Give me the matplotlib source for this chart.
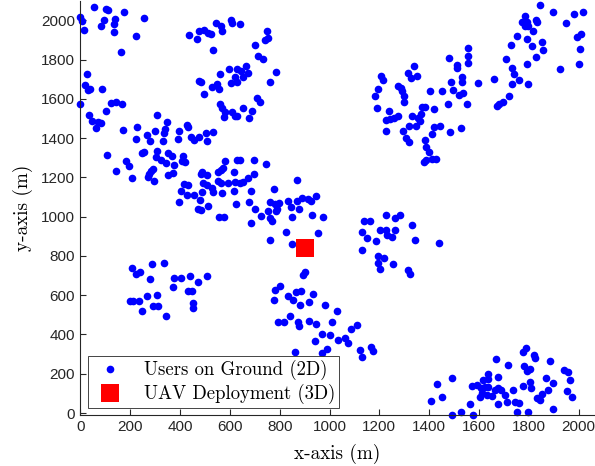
import matplotlib
matplotlib.use("Agg")
import matplotlib.pyplot as plt
import numpy as np

# users (metres)
nw_x = [55, 101, 112, 176, 0, 7, 15, 96, 82, 139,
        133, 135, 256, 223, 161, 436, 468, 476, 497, 513,
        25, 18, 29, 38, 88, 476, 484, 496, 0, 122,
        144, 165, 104, 34, 47, 71, 82, 61, 171, 307,
        347, 339, 337, 299, 227, 224, 267, 396, 428, 430,
        393, 444, 455, 476, 505]
nw_y = [2067, 2055, 2050, 2041, 2017, 1995, 1952, 2003, 1973, 2007,
        1983, 1938, 2009, 1919, 1839, 1926, 1906, 1945, 1948, 1935,
        1724, 1669, 1647, 1650, 1650, 1690, 1683, 1623, 1575, 1578,
        1585, 1573, 1536, 1515, 1487, 1484, 1475, 1453, 1443, 1517,
        1481, 1446, 1424, 1438, 1455, 1395, 1414, 1434, 1469, 1455,
        1397, 1403, 1392, 1407, 1428]

w_x = [278, 333, 508, 108, 141, 181, 196, 206, 246, 255,
       306, 303, 350, 366, 323, 342, 374, 371, 350, 413,
       409, 420, 292, 283, 275, 270, 294, 487, 484, 507,
       417, 433, 493, 507, 404, 428, 457, 487, 481, 396,
       473, 484, 513, 208, 224, 239, 288, 334, 278, 374,
       404, 440, 507, 473,
       373, 431, 449, 266, 308, 199, 212, 235, 248, 290,
       310, 342, 452, 452]
w_y = [1383, 1383, 1386, 1312, 1232, 1284, 1258, 1198, 1326, 1331,
       1335, 1306, 1326, 1309, 1287, 1273, 1263, 1222, 1210, 1309,
       1284, 1276, 1244, 1232, 1218, 1201, 1184, 1229, 1215, 1210,
       1167, 1160, 1172, 1163, 1133, 1109, 1109, 1124, 1085, 1074,
       1040, 1032, 1052, 739, 709, 718, 759, 762, 684, 687,
       687, 696, 698, 667,
       643, 619, 619, 598, 601, 571, 569, 571, 521, 543,
       543, 494, 560, 536]

n_x = [544, 564, 569, 604, 607, 639, 524, 748, 741, 752,
       701, 714, 734, 533, 784, 762, 596, 627, 645, 663,
       671, 654, 620, 627, 604, 560, 529, 547, 556, 560,
       569, 580, 576, 607, 620, 630, 654, 688, 677, 710,
       721, 531]
n_y = [1986, 1972, 1945, 1999, 1986, 1979, 1931, 1947, 1901, 1909,
       1875, 1820, 1801, 1849, 1738, 1685, 1750, 1753, 1743, 1768,
       1733, 1712, 1712, 1686, 1678, 1726, 1661, 1674, 1652, 1575,
       1554, 1532, 1506, 1532, 1513, 1513, 1554, 1536, 1500, 1604,
       1582, 1431]

c_x = [580, 627, 641, 698, 746, 553, 573, 564, 615, 553,
       564, 594, 620, 642, 653, 674, 698, 529, 533, 567,
       615, 685, 776, 868, 624, 677, 701, 556, 575, 725,
       685, 762, 781, 797, 789, 784, 754, 761, 768, 835,
       845, 869, 891, 915, 926, 945, 879, 848, 928, 975,
       826, 955, 761, 851, 902, 895]
c_y = [1284, 1290, 1290, 1290, 1266, 1227, 1246, 1236, 1229, 1181,
       1169, 1172, 1177, 1169, 1177, 1198, 1218, 1146, 1124, 1121,
       1130, 1133, 1141, 1188, 1064, 1073, 1040, 999, 999, 1002,
       967, 1074, 1064, 1068, 1040, 1030, 1027, 992, 978, 1078,
       1050, 1081, 1095, 1090, 1078, 1107, 1038, 996, 1009, 999,
       920, 919, 881, 862, 718, 704]

s_x = [781, 801, 778, 835, 855, 864, 884, 881, 918, 935,
       982, 1029, 794, 818, 841, 872, 876, 918, 945, 1011,
       969, 942, 1002, 1035, 861, 969, 989,
       1085, 1112, 1062, 1073, 1122, 1132, 1167, 1175]
s_y = [629, 649, 574, 595, 577, 615, 619, 550, 564, 608,
       550, 521, 464, 461, 492, 464, 444, 469, 452, 461,
       401, 367, 396, 372, 310, 307, 327,
       430, 449, 382, 355, 320, 286, 336, 317]

se_x = [1430, 1493, 1406, 1453, 1493, 1528,
        1564, 1578, 1574, 1591, 1618, 1638, 1638, 1608, 1624, 1638,
        1614, 1631, 1604, 1651, 1665, 1678, 1689, 1678, 1705, 1712,
        1670, 1718, 1678, 1738, 1745, 1761, 1752, 1778, 1788, 1782,
        1792, 1805, 1778, 1805, 1809, 1796, 1822, 1825, 1832, 1845,
        1852, 1886, 1869, 1879, 1899, 1896, 1943, 1959, 1966, 1953,
        1973]
se_y = [149, 176, 63, 81, -9, 4,
        46, -10, 139, 145, 170, 175, 200, 127, 135, 132,
        101, 93, 84, 87, 118, 127, 118, 46, 93, 55,
        276, 247, 181, 118, 58, 50, 4, 310, 329, 238,
        212, 225, 139, 159, 125, 7, 293, 278, 76, 67,
        98, 264, 178, 115, 154, 19, 221, 209, 170, 112,
        82]

e_x = [1308, 1320, 1384, 1386, 1400, 1381, 1386, 1410, 1426, 1140,
       1163, 1226, 1263, 1284, 1132, 1151, 1203, 1226, 1230, 1250,
       1263, 1186, 1330, 1343, 1441, 1129, 1196, 1220, 1196, 1204,
       1254, 1316, 1325]
e_y = [1400, 1380, 1390, 1356, 1328, 1280, 1290, 1296, 1296, 978,
       978, 1006, 992, 1009, 924, 889, 931, 931, 906, 898,
       932, 876, 955, 879, 864, 828, 798, 787, 762, 732,
       761, 726, 709]

ne_x = [1339, 1317, 1327, 1351, 1206, 1216, 1194, 1183, 1190, 1276,
        1287, 1292, 1300, 1298, 1239, 1226, 1243, 1260, 1276, 1226,
        1330, 1373, 1384, 1367, 1357, 1319, 1346, 1363, 1296, 1421,
        1405, 1453, 1421, 1445, 1410, 1484, 1528, 1477, 1481, 1511,
        1511, 1488, 1533, 1533, 1497, 1520, 1536, 1555, 1557, 1557,
        1553,
        1598, 1659, 1671, 1681, 1698, 1721, 1733, 1798, 1742, 1762,
        1734, 1710, 1728, 1753, 1793, 1830, 1813, 1855, 1856, 1794,
        1818, 1785, 1774, 1793, 1785, 1798, 1830, 1833, 1844, 1899,
        1949, 1983, 2018, 1993, 2010, 2005, 2002, 1927]
ne_y = [1767, 1733, 1708, 1715, 1717, 1698, 1649, 1614, 1553, 1664,
        1657, 1640, 1616, 1582, 1537, 1492, 1498, 1503, 1511, 1434,
        1510, 1558, 1558, 1523, 1503, 1464, 1464, 1486, 1434, 1549,
        1638, 1641, 1455, 1459, 1420, 1429, 1450, 1575, 1806, 1772,
        1757, 1686, 1712, 1685, 1644, 1621, 1631, 1858, 1818, 1780,
        1572,
        1681, 1700, 1561, 1572, 1582, 1614, 1674, 1674, 1724, 1695,
        1755, 1805, 1875, 1918, 1779, 1813, 1871, 1887, 1849, 1904,
        1947, 2020, 1990, 1993, 1973, 1969, 2003, 1993, 2077, 2041,
        1986, 2034, 2041, 1914, 1931, 1854, 1775, 1752]

uav_x = [900]
uav_y = [840]

users_x = np.concatenate([nw_x, w_x, n_x, c_x, s_x, se_x, e_x, ne_x])
users_y = np.concatenate([nw_y, w_y, n_y, c_y, s_y, se_y, e_y, ne_y])

fig = plt.figure(figsize=(5.95, 4.66), dpi=100)
ax = fig.add_axes([80 / 595, 51 / 466, 515 / 595, 414.4 / 466])

ax.plot(users_x, users_y, 'o', color='#0000ff', markersize=5.5,
        markeredgewidth=0, clip_on=False, label='Users on Ground (2D)')
ax.plot(uav_x, uav_y, 's', color='#ff0000', markersize=13,
        markeredgewidth=0, clip_on=False, label='UAV Deployment (3D)')

ax.set_xlim(-2, 2066)
ax.set_ylim(-10, 2100)
ax.set_xticks(np.arange(0, 2001, 200))
ax.set_yticks(np.arange(0, 2001, 200))

for side in ['top', 'right']:
    ax.spines[side].set_visible(False)
for side in ['left', 'bottom']:
    ax.spines[side].set_color('#262626')
    ax.spines[side].set_linewidth(0.8)
ax.tick_params(direction='in', length=4, width=0.8, color='#262626',
               labelcolor='#262626', labelsize=11)
for lbl in ax.get_xticklabels() + ax.get_yticklabels():
    lbl.set_fontfamily('Liberation Sans')

ax.set_xlabel('x-axis (m)', fontfamily='cmr10', fontsize=13.8, labelpad=7)
ax.set_ylabel('y-axis (m)', fontfamily='cmr10', fontsize=13.8, labelpad=6)

leg = ax.legend(loc='lower left', bbox_to_anchor=(0.0155, 0.017),
                borderaxespad=0, prop={'family': 'cmr10', 'size': 13.5},
                fancybox=False, edgecolor='#262626', framealpha=1,
                handletextpad=0.8, borderpad=0.2, labelspacing=0.2)
leg.get_frame().set_linewidth(0.6)

fig.savefig('out.png', dpi=100)
